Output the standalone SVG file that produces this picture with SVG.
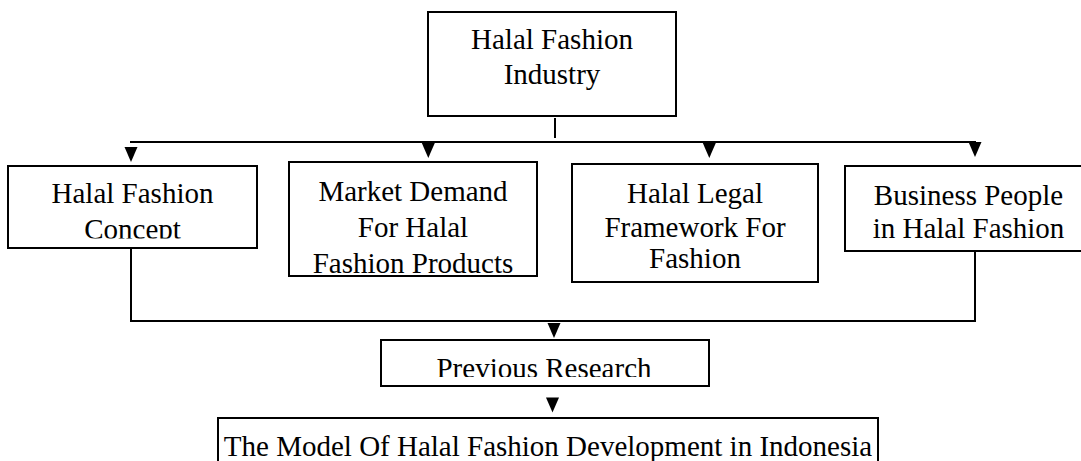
<svg xmlns="http://www.w3.org/2000/svg" xmlns:xlink="http://www.w3.org/1999/xlink" width="1081" height="461" viewBox="0 0 1081 461">
<style>
.box{fill:#fff;stroke:#000;stroke-width:2}
.ln{fill:none;stroke:#000;stroke-width:2}
.t{font-family:"Liberation Serif","Times New Roman",serif;font-size:29px;fill:#000;text-anchor:middle}
</style>
<defs>
<path id="ah" d="M-6.5,0 L6.5,0 L0,15 Z" fill="#000"/>
<clipPath id="c1"><rect x="0" y="160" width="270" height="78.5"/></clipPath>
<clipPath id="c2"><rect x="280" y="160" width="270" height="113.5"/></clipPath>
<clipPath id="c3"><rect x="370" y="330" width="350" height="47"/></clipPath>
</defs>
<rect width="1081" height="461" fill="#fff"/>
<g id="connectors">
<line class="ln" x1="555" y1="118" x2="555" y2="138"/>
<line class="ln" x1="130" y1="142" x2="976" y2="142"/>
<use xlink:href="#ah" x="131" y="147"/>
<use xlink:href="#ah" x="428.3" y="143"/>
<use xlink:href="#ah" x="709.3" y="143"/>
<use xlink:href="#ah" x="975" y="142"/>
<polyline class="ln" points="131,248 131,321 975,321 975,251"/>
<use xlink:href="#ah" x="554" y="323"/>
<use xlink:href="#ah" x="552.5" y="397.5"/>
</g>
<g id="n-industry">
<rect class="box" x="428" y="12" width="248" height="104"/>
<text class="t" x="552" y="48.5">Halal Fashion</text>
<text class="t" x="552" y="83.5">Industry</text>
</g>
<g id="n-concept">
<rect class="box" x="8" y="166" width="249" height="82"/>
<g clip-path="url(#c1)">
<text class="t" x="132.5" y="203.3">Halal Fashion</text>
<text class="t" x="132.5" y="239.3">Concept</text>
</g>
</g>
<g id="n-market">
<rect class="box" x="289" y="162" width="248" height="114"/>
<g clip-path="url(#c2)">
<text class="t" x="413" y="200.5">Market Demand</text>
<text class="t" x="413" y="236.7">For Halal</text>
<text class="t" x="413" y="273">Fashion Products</text>
</g>
</g>
<g id="n-legal">
<rect class="box" x="572" y="164" width="246" height="118"/>
<text class="t" x="695" y="203.3">Halal Legal</text>
<text class="t" x="695" y="236.7">Framework For</text>
<text class="t" x="695" y="268.3">Fashion</text>
</g>
<g id="n-business">
<rect class="box" x="845" y="166" width="250" height="85"/>
<text class="t" x="968.5" y="205">Business People</text>
<text class="t" x="968.5" y="238.3">in Halal Fashion</text>
</g>
<g id="n-previous">
<rect class="box" x="381" y="340" width="328" height="46"/>
<g clip-path="url(#c3)">
<text class="t" x="544" y="377.6">Previous Research</text>
</g>
</g>
<g id="n-model">
<rect class="box" x="218" y="418" width="660" height="60"/>
<text class="t" x="548" y="456">The Model Of Halal Fashion Development in Indonesia</text>
</g>
</svg>
